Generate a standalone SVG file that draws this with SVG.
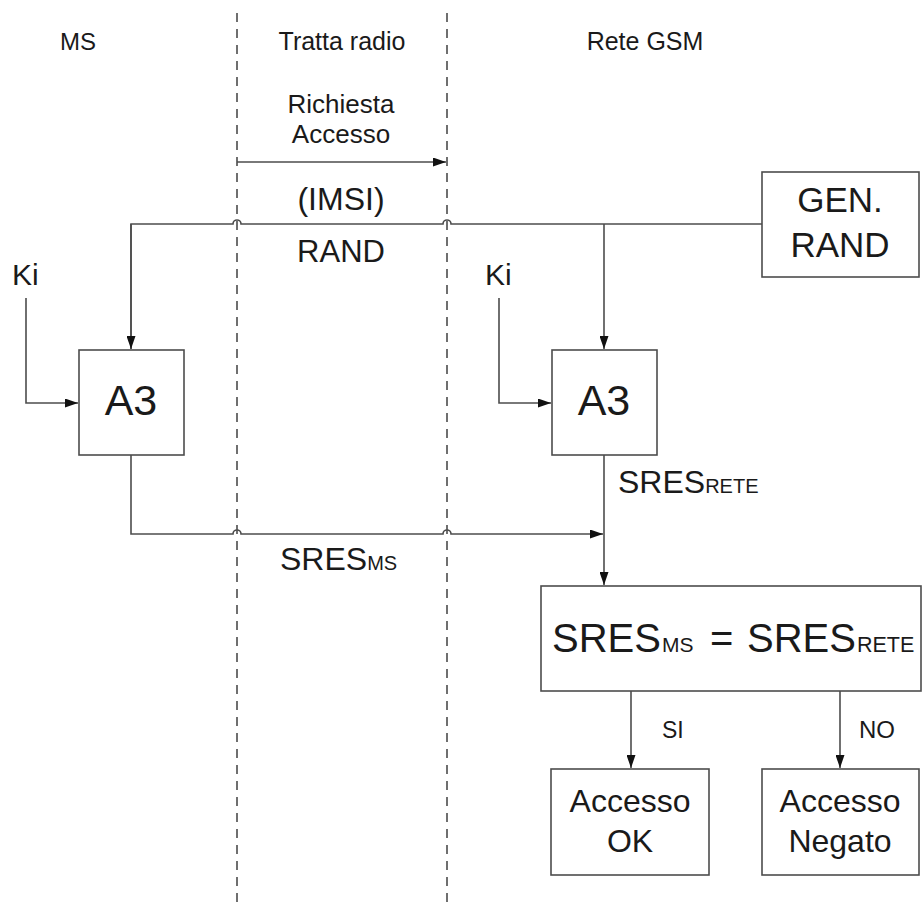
<svg xmlns="http://www.w3.org/2000/svg" width="922" height="902" viewBox="0 0 922 902">
<style>
text{font-family:"Liberation Sans",Arial,sans-serif;fill:#1a1a1a}
.box{fill:#fff;stroke:#4d4d4d;stroke-width:1.6}
.ln{fill:none;stroke:#4d4d4d;stroke-width:1.6}
.dash{fill:none;stroke:#333;stroke-width:1.4;stroke-dasharray:9 7}
.m{text-anchor:middle}
</style>
<defs>
<marker id="ah" viewBox="0 0 13 9" refX="13" refY="4.5" markerWidth="13" markerHeight="9" markerUnits="userSpaceOnUse" orient="auto">
<path d="M0,0 L13,4.5 L0,9 Z" fill="#111"/>
</marker>
</defs>
<g id="lanes">
<line class="dash" x1="237" y1="13" x2="237" y2="902"/>
<line class="dash" x1="447" y1="13" x2="447" y2="902"/>
<text x="78" y="50" font-size="24" class="m">MS</text>
<text x="342" y="50" font-size="25" class="m">Tratta radio</text>
<text x="645" y="50" font-size="25" class="m">Rete GSM</text>
</g>
<g id="connectors">
<line class="ln" x1="237" y1="162" x2="446" y2="162" marker-end="url(#ah)"/>
<path class="ln" d="M131,349 V224 H233 A4,4 0 0 1 241,224 H443 A4,4 0 0 1 451,224 H762"/>
<line class="ln" x1="131" y1="224" x2="131" y2="349" marker-end="url(#ah)"/>
<line class="ln" x1="604" y1="224" x2="604" y2="349" marker-end="url(#ah)"/>
<path class="ln" d="M26,298 V403 H78" marker-end="url(#ah)"/>
<path class="ln" d="M499,298 V403 H551" marker-end="url(#ah)"/>
<path class="ln" d="M131,455 V534 H233 A4,4 0 0 1 241,534 H443 A4,4 0 0 1 451,534 H603" marker-end="url(#ah)"/>
<line class="ln" x1="604" y1="455" x2="604" y2="585" marker-end="url(#ah)"/>
<line class="ln" x1="631" y1="691" x2="631" y2="768" marker-end="url(#ah)"/>
<line class="ln" x1="840" y1="691" x2="840" y2="768" marker-end="url(#ah)"/>
<text x="341" y="113" font-size="26" class="m">Richiesta</text>
<text x="341" y="143" font-size="26" class="m">Accesso</text>
<text x="341" y="210" font-size="32" class="m">(IMSI)</text>
<text x="341" y="262" font-size="31" class="m">RAND</text>
<text x="12" y="285" font-size="30">Ki</text>
<text x="485" y="285" font-size="30">Ki</text>
<text x="618" y="493" font-size="32">SRES<tspan font-size="20">RETE</tspan></text>
<text x="280" y="570" font-size="32">SRES<tspan font-size="20">MS</tspan></text>
<text x="662" y="738" font-size="23">SI</text>
<text x="859" y="738" font-size="24">NO</text>
</g>
<g id="a3-ms">
<rect class="box" x="79" y="350" width="105" height="105"/>
<text x="131" y="415" font-size="43" class="m">A3</text>
</g>
<g id="a3-rete">
<rect class="box" x="552" y="350" width="105" height="105"/>
<text x="604" y="415" font-size="43" class="m">A3</text>
</g>
<g id="gen-rand">
<rect class="box" x="762" y="172" width="157" height="105"/>
<text x="840" y="212" font-size="35" class="m">GEN.</text>
<text x="840" y="257" font-size="35" class="m">RAND</text>
</g>
<g id="compare">
<rect class="box" x="541" y="586" width="380" height="105"/>
<text y="652" font-size="40"><tspan x="552">SRES</tspan><tspan x="662" font-size="21">MS</tspan><tspan x="710">=</tspan><tspan x="747">SRES</tspan><tspan x="857" font-size="21.5">RETE</tspan></text>
</g>
<g id="accesso-ok">
<rect class="box" x="551" y="769" width="158" height="106"/>
<text x="630" y="812" font-size="32" class="m">Accesso</text>
<text x="630" y="852" font-size="32" class="m">OK</text>
</g>
<g id="accesso-negato">
<rect class="box" x="762" y="769" width="157" height="106"/>
<text x="840" y="812" font-size="32" class="m">Accesso</text>
<text x="840" y="852" font-size="32" class="m">Negato</text>
</g>
</svg>
